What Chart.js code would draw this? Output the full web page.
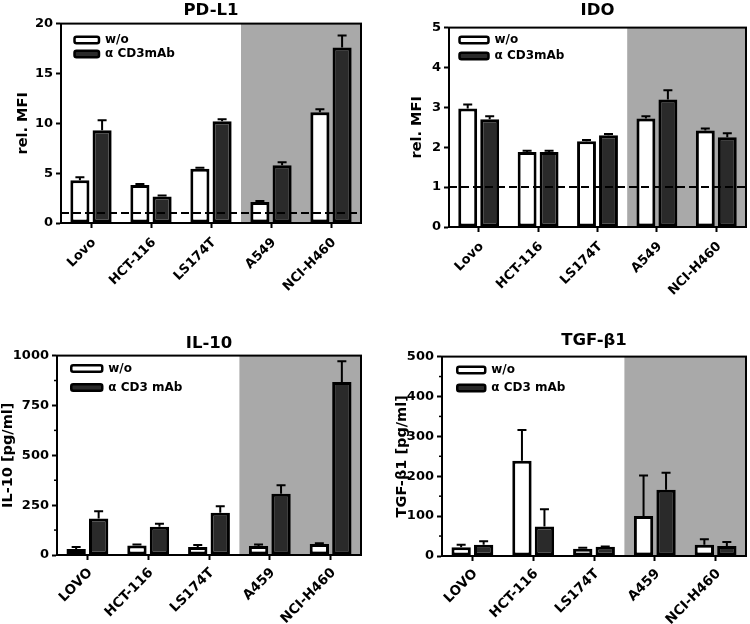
<!DOCTYPE html>
<html><head><meta charset="utf-8">
<script src="https://cdn.jsdelivr.net/npm/chart.js@4.4.0/dist/chart.umd.min.js"></script>
<style>
html,body{margin:0;padding:0;background:#fff;}
#wrap{position:relative;width:750px;height:624px;overflow:hidden;}
.p{position:absolute;}
canvas{display:block;}
</style></head><body>
<div id="wrap">
<div class="p" style="left:0;top:0"><canvas id="c1" width="375" height="310"></canvas></div>
<div class="p" style="left:375px;top:0"><canvas id="c2" width="375" height="310"></canvas></div>
<div class="p" style="left:0;top:310px"><canvas id="c3" width="375" height="314"></canvas></div>
<div class="p" style="left:375px;top:310px"><canvas id="c4" width="375" height="314"></canvas></div>
</div>
<script>
// ---- data ----
const topCategories = ['Lovo', 'HCT-116', 'LS174T', 'A549', 'NCI-H460'];
const bottomCategories = ['LOVO', 'HCT-116', 'LS174T', 'A459', 'NCI-H460'];

const pdl1Without = [4.3, 3.8, 5.45, 2.1, 11.1];
const pdl1WithoutErr = [0.3, 0.1, 0.1, 0.1, 0.3];
const pdl1CD3 = [9.3, 2.65, 10.2, 5.8, 17.6];
const pdl1CD3Err = [1.0, 0.1, 0.2, 0.3, 1.2];

const idoWithout = [2.97, 1.88, 2.15, 2.72, 2.42];
const idoWithoutErr = [0.1, 0.03, 0.03, 0.06, 0.05];
const idoCD3 = [2.7, 1.88, 2.3, 3.2, 2.25];
const idoCD3Err = [0.08, 0.03, 0.03, 0.23, 0.1];

const il10Without = [30, 48, 40, 45, 55];
const il10WithoutErr = [10, 5, 10, 8, 4];
const il10CD3 = [183, 142, 212, 307, 867];
const il10CD3Err = [37, 15, 33, 43, 105];

const tgfWithout = [22, 239, 18, 100, 28];
const tgfWithoutErr = [6, 77, 3, 102, 14];
const tgfCD3 = [28, 74, 23, 166, 25];
const tgfCD3Err = [9, 43, 1, 43, 10];

const il10MinorTicks = [125, 375, 625, 875];
const tgfMinorTicks = [50, 150, 250, 350, 450];

// ---- setup ----
Chart.defaults.font.family = "'DejaVu Sans', sans-serif";
Chart.defaults.font.weight = 'bold';
Chart.defaults.color = '#000';

function makePanel(id, cfg) {
  const decor = {
    id: 'decor',
    afterLayout(chart) {
      const ca = chart.chartArea;
      const lg = chart.legend;
      if (lg) {
        const w = lg.width, h = lg.height;
        lg.left = ca.left + cfg.legendDx; lg.top = ca.top + cfg.legendDy;
        lg.right = lg.left + w; lg.bottom = lg.top + h;
      }
      const tb = chart.titleBlock;
      if (tb) { tb.left = ca.left; tb.right = ca.right; tb.width = ca.right - ca.left; }
    },
    beforeDatasetsDraw(chart) {
      const {ctx, chartArea: ca, scales: {x}} = chart;
      const x0 = (x.getPixelForValue(2) + x.getPixelForValue(3)) / 2;
      ctx.save();
      ctx.fillStyle = '#a9a9a9';
      ctx.fillRect(x0, ca.top, ca.right - x0, ca.bottom - ca.top);
      ctx.restore();
    },
    afterDatasetsDraw(chart) {
      const {ctx, chartArea: ca, scales: {y}} = chart;
      ctx.save();
      ctx.strokeStyle = '#000';
      ctx.lineWidth = 2;
      const errs = [cfg.withoutErr, cfg.cd3Err];
      chart.data.datasets.forEach((ds, di) => {
        const meta = chart.getDatasetMeta(di);
        meta.data.forEach((bar, i) => {
          const e = errs[di][i];
          if (!e) return;
          const top = y.getPixelForValue(ds.data[i] + e);
          ctx.beginPath();
          ctx.moveTo(bar.x, bar.y);
          ctx.lineTo(bar.x, top);
          ctx.moveTo(bar.x - 4.5, top);
          ctx.lineTo(bar.x + 4.5, top);
          ctx.stroke();
        });
      });
      if (cfg.refLine != null) {
        const yy = y.getPixelForValue(cfg.refLine);
        ctx.setLineDash([8, 4]);
        ctx.beginPath();
        ctx.moveTo(ca.left, yy);
        ctx.lineTo(ca.right, yy);
        ctx.stroke();
        ctx.setLineDash([]);
      }
      if (cfg.minor) {
        ctx.lineWidth = 1.5;
        cfg.minor.forEach(v => {
          const yy = y.getPixelForValue(v);
          ctx.beginPath();
          ctx.moveTo(ca.left - 3, yy);
          ctx.lineTo(ca.left, yy);
          ctx.stroke();
        });
      }
      ctx.lineWidth = 2;
      ctx.strokeRect(ca.left, ca.top, ca.right - ca.left, ca.bottom - ca.top);
      ctx.restore();
    }
  };

  const barCommon = {borderColor: '#000', borderWidth: 3, borderSkipped: false,
                     categoryPercentage: 0.74, barPercentage: 0.86};

  return new Chart(document.getElementById(id), {
    type: 'bar',
    data: {
      labels: cfg.labels,
      datasets: [
        Object.assign({label: 'w/o', data: cfg.without, backgroundColor: '#ffffff'}, barCommon),
        Object.assign({label: cfg.cd3Label, data: cfg.cd3, backgroundColor: '#2a2a2a'}, barCommon)
      ]
    },
    options: {
      responsive: false,
      animation: false,
      devicePixelRatio: 1,
      layout: {padding: {left: cfg.padLeft, right: cfg.padRight, top: 0, bottom: 0}},
      plugins: {
        title: {display: true, text: cfg.title, color: '#000',
                font: {size: 16.5, weight: 'bold'}, padding: cfg.titlePad},
        legend: {
          position: 'chartArea', align: 'start',
          labels: {
            boxWidth: cfg.boxW, boxHeight: 6.5, padding: cfg.legendPad,
            color: '#000', font: {size: 12, weight: 'bold'},
            useBorderRadius: true, borderRadius: 2,
            generateLabels: (c) => Chart.defaults.plugins.legend.labels.generateLabels(c)
              .map(l => Object.assign(l, {lineWidth: 2.5}))
          },
          onClick: () => {}
        },
        tooltip: {enabled: false}
      },
      scales: {
        x: {
          grid: {display: true, drawOnChartArea: false, drawTicks: true, tickLength: 5,
                 tickWidth: 2, tickColor: '#000', color: '#000', offset: false},
          border: {display: true, color: '#000', width: 2},
          ticks: {minRotation: 45, maxRotation: 45, color: '#000', padding: cfg.xPad,
                  labelOffset: 3, font: {size: cfg.xFont, weight: 'bold'}},
          afterFit: (s) => { s.height = cfg.xHeight; }
        },
        y: {
          min: 0, max: cfg.yMax,
          ticks: {stepSize: cfg.yStep, color: '#000', padding: 3,
                  font: {size: 13, weight: 'bold'},
                  callback: (v) => String(v)},
          grid: {drawOnChartArea: false, drawTicks: true, tickLength: 5, tickWidth: 2,
                 tickColor: '#000', color: '#000'},
          border: {display: true, color: '#000', width: 2},
          title: {display: true, text: cfg.yTitle, color: '#000',
                  font: {size: 14.5, weight: 'bold'}, padding: cfg.yTitlePad},
          afterFit: (s) => { s.width = cfg.yWidth; }
        }
      }
    },
    plugins: [decor]
  });
}

makePanel('c1', {
  labels: topCategories, title: 'PD-L1', yTitle: 'rel. MFI', cd3Label: 'α CD3mAb',
  without: pdl1Without, withoutErr: pdl1WithoutErr, cd3: pdl1CD3, cd3Err: pdl1CD3Err,
  yMax: 20, yStep: 5, refLine: 1, minor: null,
  padLeft: 11, padRight: 14, yWidth: 50, xHeight: 87, yTitlePad: 4,
  titlePad: {top: 0.4, bottom: 3.4}, xPad: 7, xFont: 13,
  boxW: 24.5, legendPad: 2, legendDx: 11.5, legendDy: 8.5
});
makePanel('c2', {
  labels: topCategories, title: 'IDO', yTitle: 'rel. MFI', cd3Label: 'α CD3mAb',
  without: idoWithout, withoutErr: idoWithoutErr, cd3: idoCD3, cd3Err: idoCD3Err,
  yMax: 5, yStep: 1, refLine: 1, minor: null,
  padLeft: 30, padRight: 4, yWidth: 44, xHeight: 83, yTitlePad: 4,
  titlePad: {top: 0.4, bottom: 7.4}, xPad: 7, xFont: 13,
  boxW: 29, legendPad: 4, legendDx: 6.5, legendDy: 2.5
});
makePanel('c3', {
  labels: bottomCategories, title: 'IL-10', yTitle: 'IL-10 [pg/ml]', cd3Label: 'α CD3 mAb',
  without: il10Without, withoutErr: il10WithoutErr, cd3: il10CD3, cd3Err: il10CD3Err,
  yMax: 1000, yStep: 250, refLine: null, minor: il10MinorTicks,
  padLeft: 0, padRight: 14, yWidth: 57, xHeight: 69, yTitlePad: 0,
  titlePad: {top: 23.4, bottom: 2.4}, xPad: 5, xFont: 13.5,
  boxW: 31, legendPad: 7, legendDx: 7.25, legendDy: 0
});
makePanel('c4', {
  labels: bottomCategories, title: 'TGF-β1', yTitle: 'TGF-β1 [pg/ml]', cd3Label: 'α CD3 mAb',
  without: tgfWithout, withoutErr: tgfWithoutErr, cd3: tgfCD3, cd3Err: tgfCD3Err,
  yMax: 500, yStep: 100, refLine: null, minor: tgfMinorTicks,
  padLeft: 15, padRight: 4, yWidth: 52, xHeight: 68, yTitlePad: 4,
  titlePad: {top: 20.4, bottom: 6.4}, xPad: 5, xFont: 13.5,
  boxW: 28, legendPad: 6, legendDx: 9.25, legendDy: 1.5
});
</script>
</body></html>
